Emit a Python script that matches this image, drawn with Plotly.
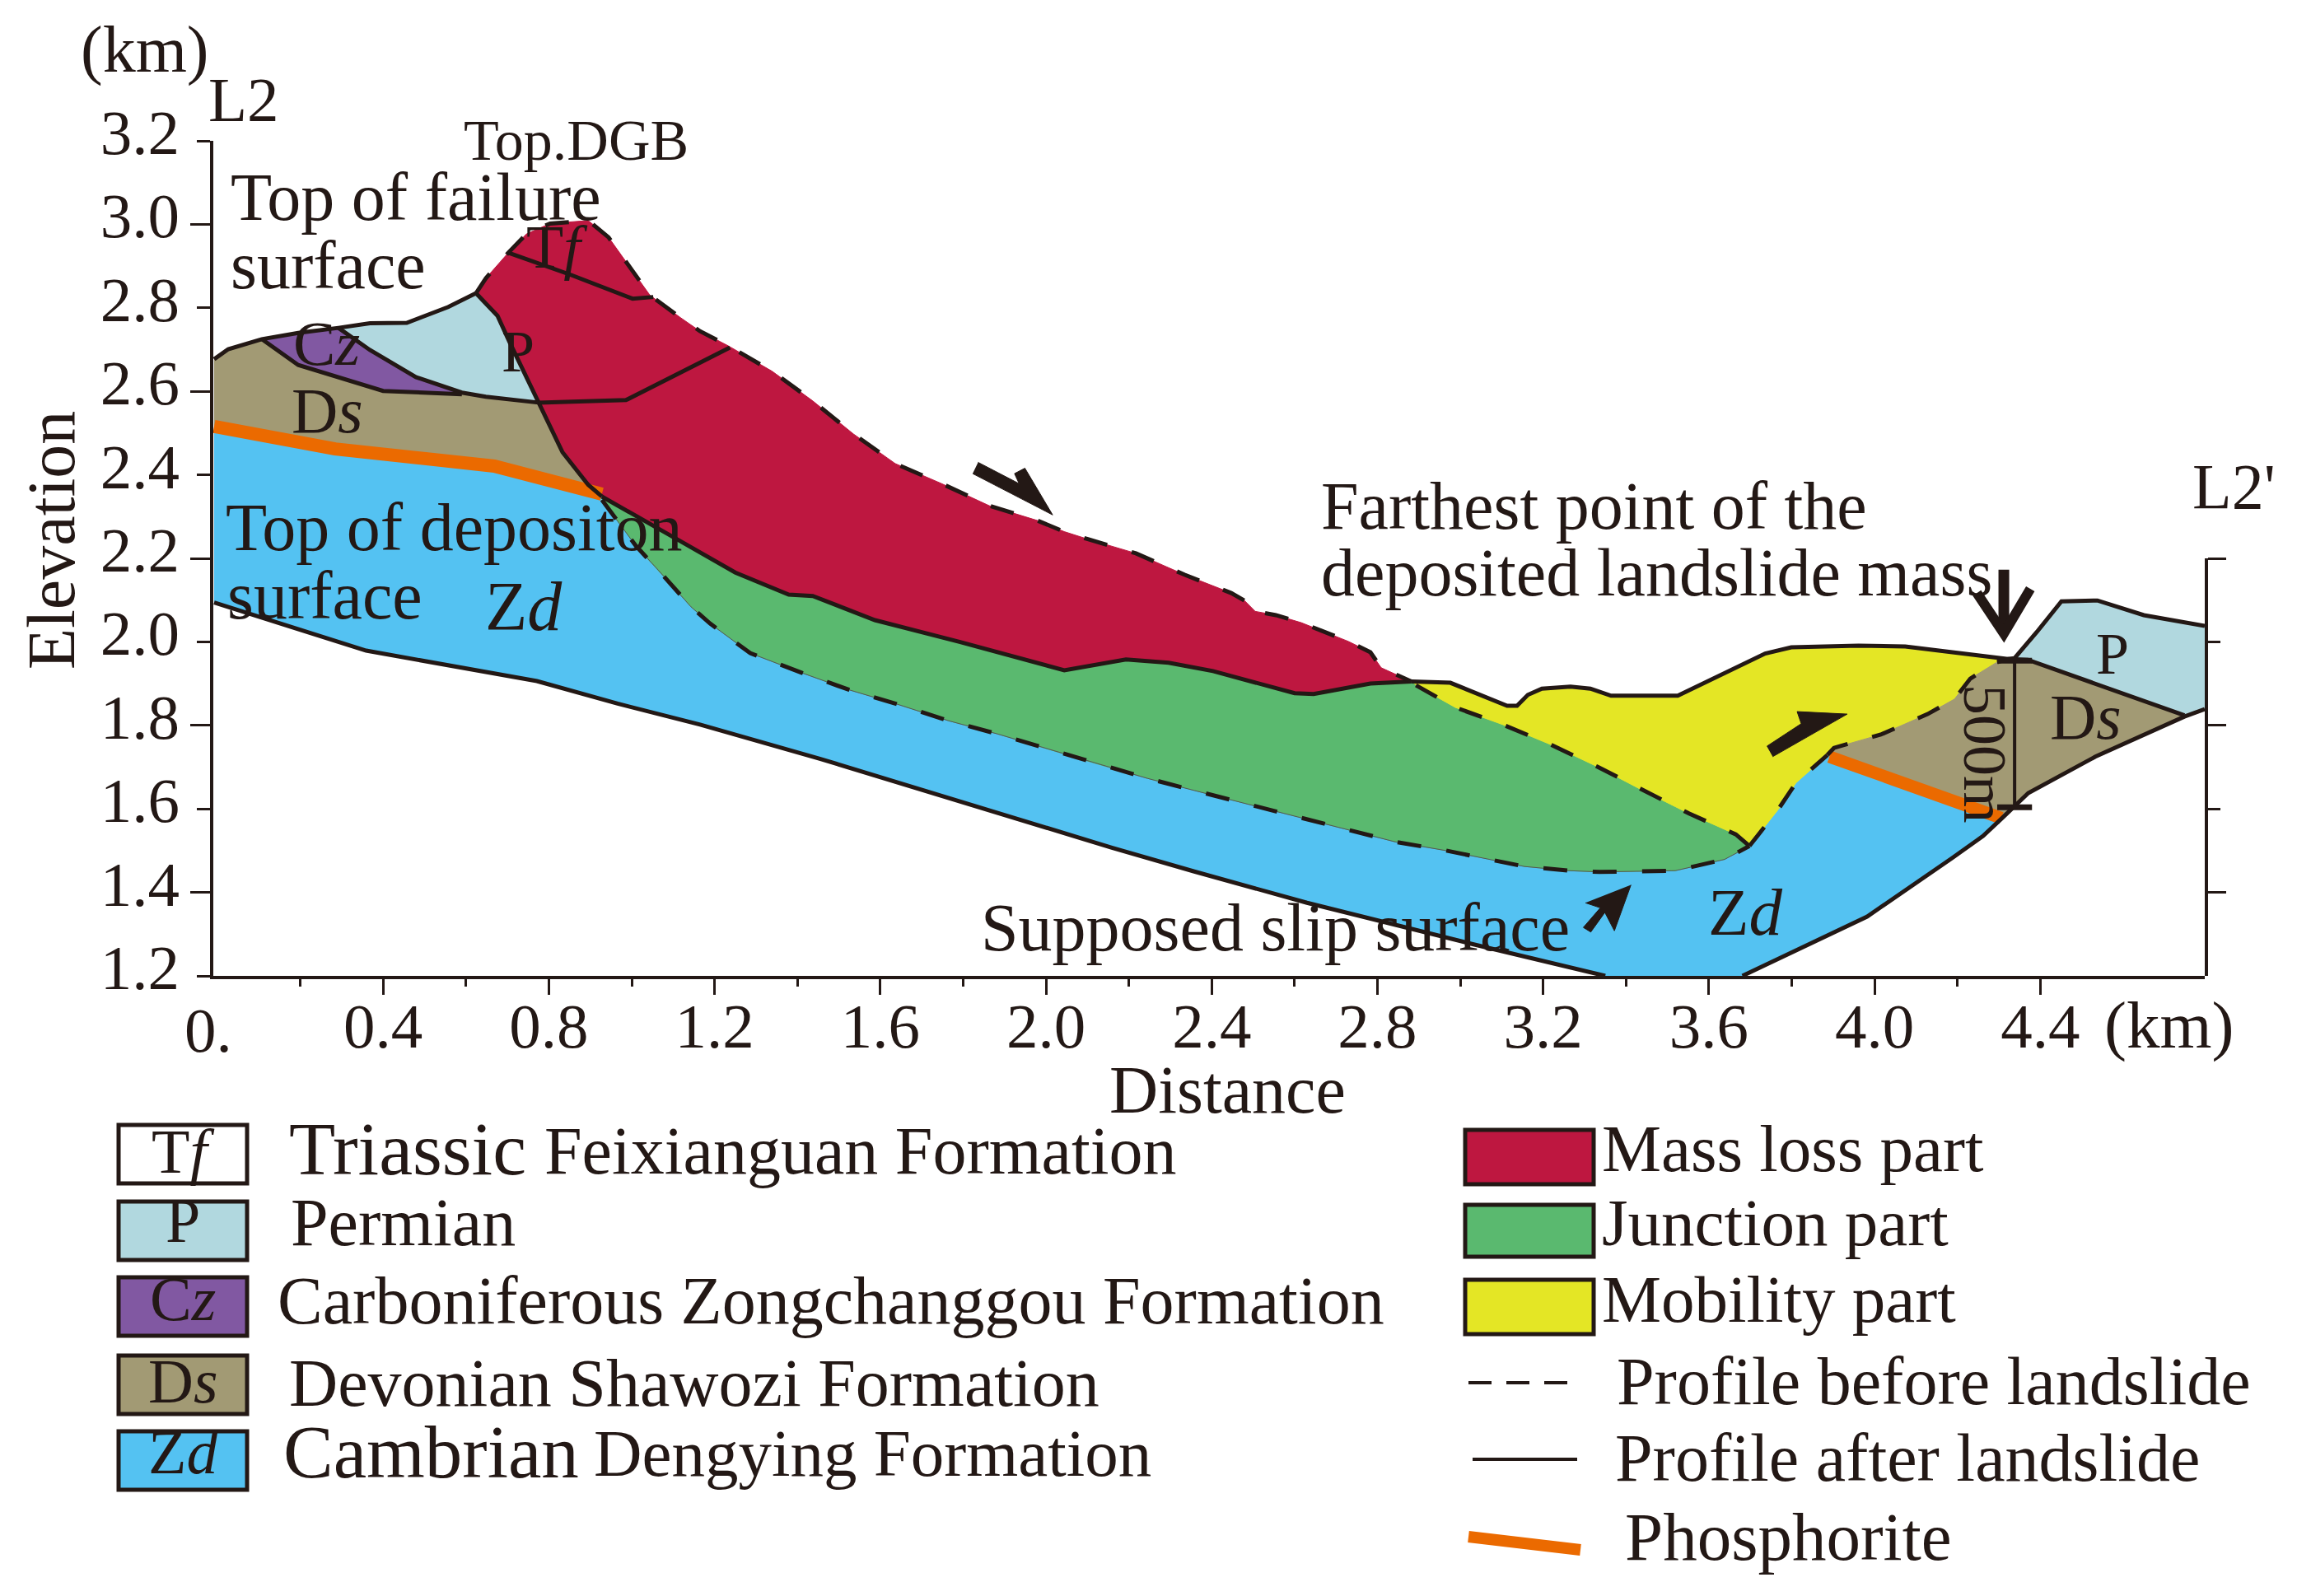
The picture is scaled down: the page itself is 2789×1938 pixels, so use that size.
#!/usr/bin/python3
"""Cross section L2-L2' of the landslide, elevation against distance"""
import plotly.graph_objects as go

WIDTH = 2789
HEIGHT = 1938
INK = "#231815"
SERIF = "Liberation Serif"

# boundaries of the section, distance (km) and elevation (km)
scarp_a_x = [-0.008, 0.026, 0.107]
scarp_a_y = [2.677, 2.701, 2.725]
scarp_b_x = [0.107, 0.195, 0.292]
scarp_b_y = [2.725, 2.740, 2.752]
scarp_c_x = [0.292, 0.368, 0.457, 0.557, 0.624]
scarp_c_y = [2.752, 2.763, 2.764, 2.802, 2.835]

mass_top_x = [0.624, 0.648, 0.702, 0.746, 0.803, 0.895, 0.944, 1.044, 1.117, 1.165,
              1.233, 1.339, 1.437, 1.535, 1.636, 1.748, 1.863, 1.978, 2.044, 2.101,
              2.217, 2.334, 2.447, 2.479, 2.505, 2.555, 2.616, 2.730, 2.783, 2.809, 2.882]
mass_top_y = [2.835, 2.871, 2.932, 2.977, 3.002, 3.009, 2.969, 2.830, 2.777, 2.744,
              2.709, 2.648, 2.577, 2.498, 2.427, 2.379, 2.326, 2.291, 2.264, 2.246,
              2.212, 2.161, 2.117, 2.099, 2.073, 2.064, 2.046, 2.001, 1.975, 1.938, 1.905]

junction_top_x = [0.928, 0.966, 1.107, 1.250, 1.379, 1.437, 1.587, 1.791, 2.044, 2.193,
                  2.296, 2.403, 2.600, 2.646, 2.783, 2.882]
junction_top_y = [2.348, 2.326, 2.247, 2.166, 2.113, 2.110, 2.052, 2.000, 1.932, 1.958,
                  1.950, 1.930, 1.877, 1.875, 1.900, 1.905]

mobile_top_x = [2.882, 2.976, 3.113, 3.137, 3.163, 3.197, 3.266, 3.314, 3.364, 3.525,
                3.736, 3.799, 3.961, 4.074, 4.322]
mobile_top_y = [1.905, 1.902, 1.847, 1.847, 1.873, 1.888, 1.893, 1.888, 1.871, 1.871,
                1.972, 1.987, 1.991, 1.989, 1.959]

junction_toe_x = [2.893, 2.988, 3.102, 3.218, 3.331, 3.439, 3.552, 3.665, 3.698]
junction_toe_y = [1.896, 1.843, 1.802, 1.754, 1.701, 1.645, 1.589, 1.539, 1.511]

slip_x = [0.928, 1.010, 1.064, 1.143, 1.189, 1.286, 1.410, 1.525, 1.640, 1.765, 1.881,
          2.004, 2.119, 2.245, 2.358, 2.600, 2.843, 2.966, 3.087, 3.155, 3.262, 3.336,
          3.519, 3.638, 3.698]
slip_y = [2.340, 2.230, 2.172, 2.084, 2.044, 1.973, 1.926, 1.885, 1.851, 1.811, 1.780,
          1.744, 1.709, 1.673, 1.644, 1.583, 1.521, 1.500, 1.476, 1.462, 1.452, 1.449,
          1.452, 1.479, 1.511]

mobile_base_x = [3.698, 3.767, 3.810, 3.886]
mobile_base_y = [1.511, 1.598, 1.662, 1.729]
ds_right_top_x = [3.886, 3.902, 4.015, 4.128, 4.193, 4.231, 4.295, 4.322]
ds_right_top_y = [1.729, 1.746, 1.778, 1.827, 1.863, 1.912, 1.951, 1.959]

base_left_x = [-0.008, 0.359, 0.771, 0.966, 1.165, 1.454, 2.159, 2.358, 2.630, 3.026, 3.350]
base_left_y = [2.094, 1.979, 1.906, 1.852, 1.802, 1.720, 1.507, 1.450, 1.375, 1.277, 1.200]
base_lower_x = [3.681, 3.982, 4.187, 4.262, 4.311]
base_lower_y = [1.200, 1.342, 1.482, 1.535, 1.581]
base_upper_x = [4.311, 4.371, 4.533, 4.748, 4.797]
base_upper_y = [1.581, 1.638, 1.725, 1.821, 1.839]

p_right_top_x = [4.322, 4.338, 4.392, 4.451, 4.538, 4.650, 4.797]
p_right_top_y = [1.959, 1.961, 2.024, 2.097, 2.099, 2.064, 2.038]
ds_p_line_x = [4.322, 4.370, 4.748]
ds_p_line_y = [1.959, 1.957, 1.824]

phos_left_x = [-0.008, 0.284, 0.668, 0.928]
phos_left_y = [2.516, 2.462, 2.421, 2.354]
phos_right_x = [3.891, 4.306]
phos_right_y = [1.725, 1.578]

tf_line_x = [0.702, 0.853, 1.002, 1.052]
tf_line_y = [2.932, 2.879, 2.822, 2.826]
fault_a_x = [0.624, 0.676, 0.706, 0.775]
fault_a_y = [2.835, 2.781, 2.716, 2.573]
fault_b_x = [0.775, 0.833, 0.895, 0.928]
fault_b_y = [2.573, 2.454, 2.376, 2.348]
inner_line_x = [0.775, 0.986, 1.237]
inner_line_y = [2.573, 2.579, 2.705]
p_cz_a_x = [0.292, 0.368, 0.479, 0.590]
p_cz_a_y = [2.752, 2.699, 2.634, 2.597]
p_cz_b_x = [0.590, 0.648, 0.775]
p_cz_b_y = [2.597, 2.587, 2.573]
cz_ds_x = [0.107, 0.195, 0.400, 0.590]
cz_ds_y = [2.725, 2.663, 2.601, 2.593]

# the 500 m bar and the arrows
bar_x = [4.338, 4.338]
bar_y = [1.955, 1.604]
cap_x = [4.296, 4.380, None, 4.296, 4.380]
cap_y = [1.955, 1.955, None, 1.604, 1.604]
arrow_slide_x = [1.836, 1.935, 1.924, 1.949, 2.016, 1.823]
arrow_slide_y = [2.430, 2.379, 2.403, 2.416, 2.304, 2.403]
arrow_mobile_x = [3.740, 3.823, 3.813, 3.934, 3.754]
arrow_mobile_y = [1.750, 1.804, 1.833, 1.827, 1.725]
arrow_slip_x = [3.412, 3.372, 3.349, 3.315, 3.297, 3.338, 3.302]
arrow_slip_y = [1.418, 1.308, 1.352, 1.305, 1.316, 1.363, 1.375]
farthest_shaft_x = [4.312, 4.312]
farthest_shaft_y = [2.173, 2.040]
farthest_head_x = [4.247, 4.312, 4.376]
farthest_head_y = [2.117, 2.020, 2.127]

# axes, the 0 has no tick of its own in the original
x_ticks = [0.4, 0.8, 1.2, 1.6, 2.0, 2.4, 2.8, 3.2, 3.6, 4.0, 4.4]
x_tick_labels = ["0.4", "0.8", "1.2", "1.6", "2.0", "2.4", "2.8", "3.2", "3.6", "4.0", "4.4"]
x_minor = [0.2, 0.6, 1.0, 1.4, 1.8, 2.2, 2.6, 3.0, 3.4, 3.8, 4.2]
y_ticks = [1.2, 1.4, 1.6, 1.8, 2.0, 2.2, 2.4, 2.6, 2.8, 3.0, 3.2]
y_tick_labels = ["1.2", "1.4", "1.6", "1.8", "2.0", "2.2", "2.4", "2.6", "2.8", "3.0", "3.2"]
y_long = [1.4, 1.8, 2.2, 2.6, 3.0]
y_short = [1.2, 1.6, 2.0, 2.4, 2.8, 3.2]
right_long = [1.4, 1.8, 2.2]
right_short = [1.6, 2.0]

# legend
part_names = ["Mass loss part", "Junction part", "Mobility part"]

COLORS = dict(
    red="#BE1740", green="#5AB96F", yellow="#E4E625", blue="#54C2F2",
    permian="#B1D8DF", purple="#8158A2", khaki="#A29A74", orange="#EB6A00",
)


def join(*segments):
    out = []
    for seg in segments:
        out += list(seg)
    return out


def rev(seg):
    return list(seg)[::-1]


def fx(px):
    return px / WIDTH


def fy(py):
    return 1 - py / HEIGHT


fig = go.Figure()


def area(name, xs, ys, color):
    fig.add_trace(go.Scatter(x=xs, y=ys, mode="lines", fill="toself", fillcolor=color,
                             line=dict(color=color, width=1), name=name, hoverinfo="name"))


def stroke(xs, ys, width=5, dash="solid", color=INK, name=""):
    fig.add_trace(go.Scatter(x=xs, y=ys, mode="lines", name=name, hoverinfo="skip",
                             line=dict(color=color, width=width, dash=dash)))


def label(text, px, py, size=82, anchor="left", angle=0):
    if anchor == "left":
        px -= 3
    fig.add_annotation(text=text, xref="paper", yref="paper", x=fx(px), y=fy(py - 2),
                       xanchor=anchor, yanchor="middle", showarrow=False, textangle=angle,
                       font=dict(family=SERIF, size=size, color=INK))


def box(x0, y0, x1, y1, color):
    fig.add_shape(type="rect", xref="paper", yref="paper", x0=fx(x0), x1=fx(x1),
                  y0=fy(y1), y1=fy(y0), fillcolor=color, line=dict(color=INK, width=5))


def sample(x0, y0, x1, y1, color=INK, width=4, dash="solid"):
    fig.add_shape(type="line", xref="paper", yref="paper", x0=fx(x0), x1=fx(x1),
                  y0=fy(y0), y1=fy(y1), line=dict(color=color, width=width, dash=dash))


# filled units
area("Zd", join(phos_left_x, slip_x, mobile_base_x, phos_right_x, rev(base_lower_x), rev(base_left_x)),
     join(phos_left_y, slip_y, mobile_base_y, phos_right_y, rev(base_lower_y), rev(base_left_y)), COLORS["blue"])
area("Ds", join(scarp_a_x, cz_ds_x, p_cz_b_x, fault_b_x, rev(phos_left_x)),
     join(scarp_a_y, cz_ds_y, p_cz_b_y, fault_b_y, rev(phos_left_y)), COLORS["khaki"])
area("Cz", join(scarp_b_x, p_cz_a_x, rev(cz_ds_x)),
     join(scarp_b_y, p_cz_a_y, rev(cz_ds_y)), COLORS["purple"])
area("P", join(scarp_c_x, fault_a_x, rev(p_cz_b_x), rev(p_cz_a_x)),
     join(scarp_c_y, fault_a_y, rev(p_cz_b_y), rev(p_cz_a_y)), COLORS["permian"])
area("Mass loss part", join(mass_top_x, rev(junction_top_x), rev(fault_b_x), rev(fault_a_x)),
     join(mass_top_y, rev(junction_top_y), rev(fault_b_y), rev(fault_a_y)), COLORS["red"])
area("Junction part", join(junction_top_x, junction_toe_x, rev(slip_x)),
     join(junction_top_y, junction_toe_y, rev(slip_y)), COLORS["green"])
area("Mobility part", join(mobile_top_x, rev(ds_right_top_x), rev(mobile_base_x), rev(junction_toe_x)),
     join(mobile_top_y, rev(ds_right_top_y), rev(mobile_base_y), rev(junction_toe_y)), COLORS["yellow"])
area("Ds", join(ds_right_top_x, ds_p_line_x, rev(base_upper_x), rev(phos_right_x)),
     join(ds_right_top_y, ds_p_line_y, rev(base_upper_y), rev(phos_right_y)), COLORS["khaki"])
area("P", join(p_right_top_x, base_upper_x[-1:], rev(ds_p_line_x)),
     join(p_right_top_y, base_upper_y[-1:], rev(ds_p_line_y)), COLORS["permian"])

# phosphorite
stroke(phos_left_x, phos_left_y, width=16, color=COLORS["orange"], name="Phosphorite")
stroke(phos_right_x, phos_right_y, width=15, color=COLORS["orange"], name="Phosphorite")

# profile after landslide and contacts
for xs, ys in [
    (join(scarp_a_x, scarp_b_x, scarp_c_x), join(scarp_a_y, scarp_b_y, scarp_c_y)),
    (junction_top_x, junction_top_y), (mobile_top_x, mobile_top_y),
    (base_left_x, base_left_y), (join(base_lower_x, base_upper_x), join(base_lower_y, base_upper_y)),
    (p_right_top_x, p_right_top_y), (ds_p_line_x, ds_p_line_y),
    (tf_line_x, tf_line_y), (join(fault_a_x, fault_b_x), join(fault_a_y, fault_b_y)),
    (inner_line_x, inner_line_y), (join(p_cz_a_x, p_cz_b_x), join(p_cz_a_y, p_cz_b_y)),
    (cz_ds_x, cz_ds_y),
]:
    stroke(xs, ys, name="Profile after landslide")

# profile before landslide
stroke(slip_x, slip_y, width=1, color="#555555")
for xs, ys in [
    (mass_top_x, mass_top_y), (junction_toe_x, junction_toe_y), (slip_x, slip_y),
    (mobile_base_x, mobile_base_y), (ds_right_top_x, ds_right_top_y),
]:
    stroke(xs, ys, width=5, dash="29px,31px", name="Profile before landslide")

# bar and arrows
stroke(bar_x, bar_y, width=4)
stroke(cap_x, cap_y, width=7)
stroke(farthest_shaft_x, farthest_shaft_y, width=13)
stroke(farthest_head_x, farthest_head_y, width=12)
for xs, ys in [(arrow_slide_x, arrow_slide_y), (arrow_mobile_x, arrow_mobile_y), (arrow_slip_x, arrow_slip_y)]:
    area("arrow", xs, ys, INK)

# empty traces so the extra axes are kept
fig.add_trace(go.Scatter(x=[None], y=[None], yaxis="y2", hoverinfo="skip"))
fig.add_trace(go.Scatter(x=[None], y=[None], yaxis="y3", hoverinfo="skip"))

# section labels
label("(km)", 99, 62, 80)
label("L2", 254, 123, 77)
label("Top.DGB", 564, 172, 70)
label("Top of failure", 281, 241)
label("surface", 281, 324)
label("T<i>f</i>", 640, 302, 74)
label("C<i>z</i>", 357, 419, 77)
label("P", 610, 429, 72)
label("D<i>s</i>", 355, 501, 78)
label("Top of depositon", 275, 642)
label("surface", 277, 725)
label("Z<i>d</i>", 590, 738, 84)
label("Farthest point of the", 1605, 616)
label("deposited landslide mass", 1605, 698)
label("Supposed slip surface", 1192, 1128)
label("Z<i>d</i>", 2075, 1110, 81)
label("P", 2546, 796, 72)
label("D<i>s</i>", 2490, 872, 78)
label("L2'", 2663, 593, 78)
label("500m", 2410, 917, 74, anchor="center", angle=90)
label("Elevation", 62, 658, 82, anchor="center", angle=-90)
label("Distance", 1490, 1325, 82, anchor="center")
label("(km)", 2556, 1247, 81)
label("0.", 253, 1253, 77, anchor="center")

# legend, geologic units
for text, y0, y1, color, mid in [
    ("T<i>f</i>", 1366, 1437, "#FFFFFF", 1400),
    ("P", 1459, 1530, COLORS["permian"], 1484),
    ("C<i>z</i>", 1551, 1622, COLORS["purple"], 1579),
    ("D<i>s</i>", 1646, 1717, COLORS["khaki"], 1679),
    ("Z<i>d</i>", 1738, 1809, COLORS["blue"], 1765),
]:
    box(144, y0, 300, y1, color)
    label(text, 222, mid, 76, anchor="center")

label("Triassic", 352, 1397, 92)
label("Feixianguan Formation", 662, 1399, 82)
label("Permian", 354, 1486)
label("Carboniferous Zongchanggou Formation", 338, 1581)
label("Devonian Shawozi Formation", 352, 1681)
label("Cambrian", 345, 1765, 91)
label("Dengying Formation", 722, 1767, 81)

# legend, parts and lines
for name, y0, y1, color, mid in [
    (part_names[0], 1372, 1438, COLORS["red"], 1397),
    (part_names[1], 1463, 1526, COLORS["green"], 1487),
    (part_names[2], 1554, 1620, COLORS["yellow"], 1580),
]:
    box(1779, y0, 1935, y1, color)
    label(name, 1946, mid, 81)

sample(1783, 1679, 1903, 1679, dash="28px,18px")
label("Profile before landslide", 1964, 1679)
sample(1788, 1772, 1915, 1772)
label("Profile after landslide", 1962, 1772)
sample(1783, 1866, 1919, 1882, color=COLORS["orange"], width=14)
label("Phosphorite", 1974, 1868, 83)

tick_font = dict(family=SERIF, size=77, color=INK)

fig.update_layout(
    width=WIDTH,
    height=HEIGHT,
    margin=dict(l=0, r=0, t=0, b=0, autoexpand=False),
    showlegend=False,
    paper_bgcolor="white",
    plot_bgcolor="rgba(0,0,0,0)",
    xaxis=dict(
        domain=[fx(259), fx(2677)], range=[-0.010, 4.797], showgrid=False, zeroline=False,
        showline=True, linecolor=INK, linewidth=4, tickmode="array", tickvals=x_ticks,
        ticktext=x_tick_labels, ticks="outside", ticklen=19, tickwidth=3, tickcolor=INK,
        tickfont=tick_font, ticklabelstandoff=-28,
        minor=dict(tickmode="array", tickvals=x_minor, ticks="outside", ticklen=9,
                   tickwidth=3, tickcolor=INK),
    ),
    yaxis=dict(
        domain=[fy(1185), fy(171)], range=[1.2, 3.2], showgrid=False, zeroline=False, showline=True,
        linecolor=INK, linewidth=4, tickmode="array", tickvals=y_long, showticklabels=False,
        ticks="outside", ticklen=24, tickwidth=3, tickcolor=INK,
        minor=dict(tickmode="array", tickvals=y_short, ticks="outside", ticklen=16,
                   tickwidth=3, tickcolor=INK),
    ),
    yaxis2=dict(
        domain=[fy(1185), fy(678)], range=[1.2, 2.2], anchor="x", side="right",
        showgrid=False, zeroline=False, showline=True, linecolor=INK, linewidth=4,
        tickmode="array", tickvals=right_long, showticklabels=False, ticks="outside",
        ticklen=22, tickwidth=3, tickcolor=INK,
        minor=dict(tickmode="array", tickvals=right_short, ticks="outside", ticklen=15,
                   tickwidth=3, tickcolor=INK),
    ),
    # labels sit a little above their ticks in the original
    yaxis3=dict(
        domain=[fy(1174), fy(160)], range=[1.2, 3.2], anchor="x", side="left", showgrid=False,
        zeroline=False, showline=False, tickmode="array", tickvals=y_ticks,
        ticktext=y_tick_labels, ticks="", tickfont=tick_font, ticklabelstandoff=40,
    ),
)

fig.write_html("out.html", config={"displayModeBar": False},
               post_script="document.body.style.margin='0';")
